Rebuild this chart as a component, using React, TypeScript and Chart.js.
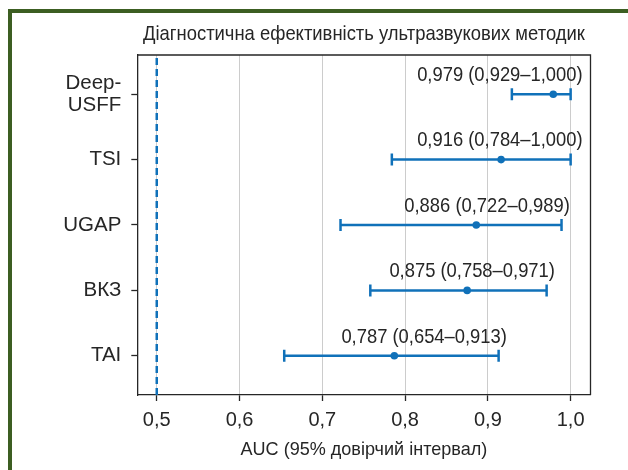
import React, { useEffect, useRef } from "react";
import { Chart, registerables } from "chart.js";

Chart.register(...registerables);

const CATEGORIES = ["Deep-USFF", "TSI", "UGAP", "ВКЗ", "TAI"];
const CATEGORY_LABELS: (string | string[])[] = [["Deep-", "USFF"], "TSI", "UGAP", "ВКЗ", "TAI"];
const AUC = [0.979, 0.916, 0.886, 0.875, 0.787];
const CI_LOW = [0.929, 0.784, 0.722, 0.758, 0.654];
const CI_HIGH = [1.0, 1.0, 0.989, 0.971, 0.913];
const X_TICKS = [0.5, 0.6, 0.7, 0.8, 0.9, 1.0];
const X_TICK_LABELS = ["0,5", "0,6", "0,7", "0,8", "0,9", "1,0"];
const REF_LINE = 0.5;
const TITLE = "Діагностична ефективність ультразвукових методик";
const X_TITLE = "AUC (95% довірчий інтервал)";

const BLUE = "#1071b9";
const DARK = "#262626";
const REGULAR = "'Liberation Sans', Arial, sans-serif";

const fmt = (v: number) => v.toFixed(3).replace(".", ",");
const yPos = (i: number) => CATEGORIES.length - 1 - i;

function drawCondensed(
  ctx: CanvasRenderingContext2D,
  text: string,
  x: number,
  y: number,
  align: CanvasTextAlign,
  font: string,
  sx: number
) {
  ctx.save();
  ctx.translate(x, y);
  ctx.scale(sx, 1);
  ctx.font = font;
  ctx.fillStyle = DARK;
  ctx.textAlign = align;
  ctx.textBaseline = "middle";
  ctx.fillText(text, 0, 0);
  ctx.restore();
}

export default function App() {
  const ref = useRef<HTMLCanvasElement | null>(null);

  useEffect(() => {
    if (!ref.current) return;

    const errorSets = CATEGORIES.map((c, i) => ({
      type: "line" as const,
      label: c,
      data: [
        { x: CI_LOW[i], y: yPos(i) },
        { x: CI_HIGH[i], y: yPos(i) },
      ],
      borderColor: BLUE,
      borderWidth: 2.5,
      pointStyle: "line" as const,
      rotation: 90,
      pointRadius: 6,
      pointBorderWidth: 2.5,
      pointBorderColor: BLUE,
      pointBackgroundColor: BLUE,
      showLine: true,
      fill: false,
    }));

    const refSet = {
      type: "line" as const,
      label: "ref",
      data: [
        { x: REF_LINE, y: -0.6 },
        { x: REF_LINE, y: 4.6 },
      ],
      borderColor: BLUE,
      borderWidth: 2.5,
      borderDash: [7, 4],
      pointRadius: 0,
      showLine: true,
      fill: false,
    };

    const pointSet = {
      type: "scatter" as const,
      label: "AUC",
      data: AUC.map((v, i) => ({ x: v, y: yPos(i) })),
      pointRadius: 3.8,
      pointBackgroundColor: BLUE,
      pointBorderWidth: 0,
      borderColor: BLUE,
    };

    const annotPlugin = {
      id: "annot",
      afterDatasetsDraw(chart: any) {
        const ctx = chart.ctx;
        const xs = chart.scales.x;
        const ys = chart.scales.y;
        CATEGORIES.forEach((_, i) => {
          const txt = `${fmt(AUC[i])} (${fmt(CI_LOW[i])}–${fmt(CI_HIGH[i])})`;
          const anchor = CI_HIGH[i] + (CI_HIGH[i] >= 1 ? 0.0145 : 0.01);
          const x = xs.getPixelForValue(anchor);
          const y = ys.getPixelForValue(yPos(i) + 0.29);
          drawCondensed(ctx, txt, x, y, "right", `21px ${REGULAR}`, 0.875);
        });
      },
      afterDraw(chart: any) {
        const { left, right, top, bottom } = chart.chartArea;
        const ctx = chart.ctx;
        ctx.save();
        ctx.strokeStyle = DARK;
        ctx.lineWidth = 1.3;
        ctx.beginPath();
        ctx.moveTo(left, top);
        ctx.lineTo(right, top);
        ctx.lineTo(right, bottom);
        ctx.stroke();
        ctx.restore();
        const cx = (left + right) / 2;
        drawCondensed(ctx, TITLE, cx, 21, "center", `21px ${REGULAR}`, 0.877);
        drawCondensed(ctx, X_TITLE, cx, 437, "center", `19px ${REGULAR}`, 0.95);
      },
    };

    const chart = new Chart(ref.current, {
      type: "scatter",
      data: { datasets: [refSet, ...errorSets, pointSet] as any },
      options: {
        animation: false,
        responsive: false,
        events: [],
        layout: { padding: { left: 0, right: 37.5, top: 42, bottom: 4.6 } },
        plugins: {
          legend: { display: false },
          tooltip: { enabled: false },
          title: { display: false },
        },
        scales: {
          x: {
            type: "linear",
            min: 0.4765,
            max: 1.024,
            afterFit: (s: any) => {
              s.height = 70.4;
            },
            afterBuildTicks: (s: any) => {
              s.ticks = X_TICKS.map((v) => ({ value: v }));
            },
            ticks: {
              color: DARK,
              font: { family: REGULAR, size: 20, lineHeight: 1.2 },
              padding: 7,
              maxRotation: 0,
              autoSkip: false,
              callback: (v: any) => {
                const idx = X_TICKS.findIndex((t) => Math.abs(t - Number(v)) < 1e-6);
                return idx >= 0 ? X_TICK_LABELS[idx] : "";
              },
            },
            grid: {
              color: "#cccccc",
              lineWidth: 1,
              tickColor: DARK,
              tickLength: 6,
              tickWidth: 1.3,
            },
            border: { color: DARK, width: 1.3 },
          },
          y: {
            type: "linear",
            min: -0.6,
            max: 4.6,
            afterFit: (s: any) => {
              s.width = 125.3;
            },
            afterBuildTicks: (s: any) => {
              s.ticks = CATEGORIES.map((_, i) => ({ value: yPos(i) }));
            },
            ticks: {
              color: DARK,
              font: { family: REGULAR, size: 20.5, lineHeight: 1.06 },
              padding: 10,
              autoSkip: false,
              callback: (v: any) => {
                const i = CATEGORIES.length - 1 - Math.round(Number(v));
                return CATEGORY_LABELS[i] as any;
              },
            },
            grid: {
              drawOnChartArea: false,
              tickColor: DARK,
              tickLength: 6,
              tickWidth: 1.3,
            },
            border: { color: DARK, width: 1.3 },
          },
        },
      },
      plugins: [annotPlugin],
    } as any);

    return () => chart.destroy();
  }, []);

  return (
    <div
      style={{
        position: "fixed",
        left: 8,
        top: 9,
        width: 620,
        height: 461,
        boxSizing: "border-box",
        borderLeft: "4px solid #3c5e22",
        borderTop: "4px solid #3c5e22",
        background: "#ffffff",
      }}
    >
      <canvas ref={ref} width={616} height={457} style={{ display: "block" }} />
    </div>
  );
}
